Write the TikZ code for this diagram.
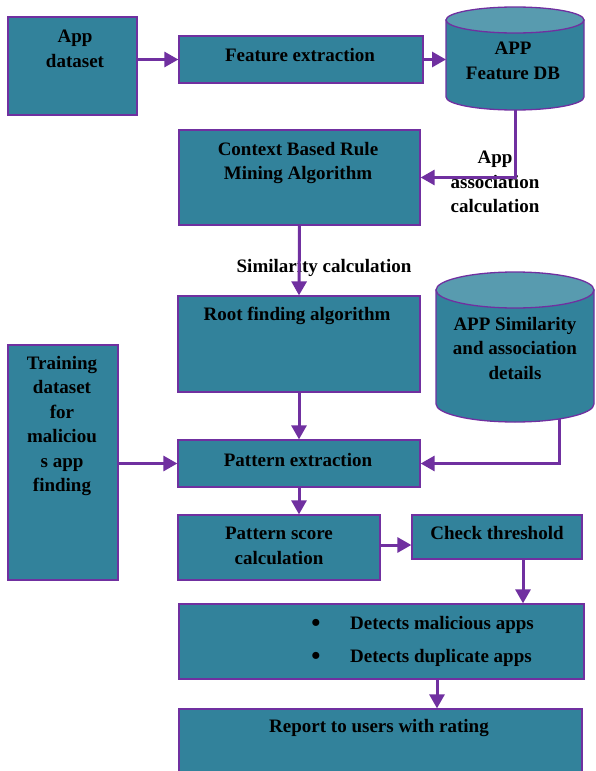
\documentclass[tikz,border=0pt]{standalone}
\usepackage{fontspec}
\setmainfont{Liberation Serif}
\usetikzlibrary{arrows.meta,calc}
\definecolor{boxfill}{RGB}{50,130,155}
\definecolor{capfill}{RGB}{88,155,175}
\definecolor{edge}{RGB}{112,48,160}
\begin{document}
\begin{tikzpicture}[x=1pt,y=-1pt,
  box/.style={draw=edge, line width=1.3pt, fill=boxfill, rectangle, inner sep=0pt},
  txt/.style={font=\bfseries\fontsize{19}{24.5}\selectfont, align=center, inner sep=0pt, text=black},
  bul/.style={font=\bfseries\fontsize{26}{26}\selectfont, inner sep=0pt, text=black},
  arr/.style={draw=edge, line width=3pt, -{Triangle[length=14pt,width=15pt]}},
  cylbody/.style={draw=edge, line width=1.3pt, fill=boxfill},
  cylcap/.style={draw=edge, line width=1.3pt, fill=capfill}]
\useasboundingbox (0,0) rectangle (596,771);
\fill[white] (0,0) rectangle (596,771);

% boxes
\node[box, minimum width=129pt, minimum height=98pt] (app) at (72.5,66) {};
\node[box, minimum width=244pt, minimum height=47pt] (feat) at (301,59.5) {};
\node[box, minimum width=241pt, minimum height=95pt] (ctx) at (299.5,177.5) {};
\node[box, minimum width=242pt, minimum height=96pt] (root) at (299,344) {};
\node[box, minimum width=110pt, minimum height=235pt] (train) at (63,462.5) {};
\node[box, minimum width=242pt, minimum height=47pt] (patt) at (299,463.5) {};
\node[box, minimum width=202pt, minimum height=65pt] (score) at (279,547.5) {};
\node[box, minimum width=170pt, minimum height=44pt] (check) at (497,537) {};
\node[box, minimum width=405pt, minimum height=75pt] (detect) at (381.5,641.5) {};
\node[box, minimum width=403pt, minimum height=70pt] (report) at (380.5,744) {};

% cylinder 1
\path[cylbody] (446,20) -- (446,97) arc[start angle=180, end angle=360, x radius=69pt, y radius=13pt] -- (584,20) -- cycle;
\path[cylcap] (515,20) ellipse [x radius=69pt, y radius=13pt];
\coordinate (db1w) at (446,59.5);
\coordinate (db1s) at (515,110);
% cylinder 2
\path[cylbody] (436,290) -- (436,404) arc[start angle=180, end angle=360, x radius=79pt, y radius=18pt] -- (594,290) -- cycle;
\path[cylcap] (515,290) ellipse [x radius=79pt, y radius=18pt];
\coordinate (db2s) at (559,419);

% texts
\node[txt] (tapp) at (75,49) {App\\dataset};
\node[txt] (tfeat) at (300,55) {Feature extraction};
\node[txt] (tdb1) at (513,61) {APP\\Feature DB};
\node[txt] (tctx) at (298,163) {Context Based Rule\\Mining Algorithm};
\node[txt] (tassoc) at (495,182) {App\\association\\calculation};
\node[txt] (tsim) at (324,268) {Similarity calculation};
\node[txt] (troot) at (297,316) {Root finding algorithm};
\node[txt] (tdb2) at (515,348) {APP Similarity\\and association\\details};
\node[txt] (ttrain) at (62,426) {Training\\dataset\\for\\maliciou\\s app\\finding};
\node[txt] (tpatt) at (298,460) {Pattern extraction};
\node[txt] (tscore) at (279,546) {Pattern score\\calculation};
\node[txt] (tcheck) at (497,533) {Check threshold};
\node[bul] (b1) at (316,625) {•};
\node[txt, anchor=west] (d1) at (350,625) {Detects malicious apps};
\node[bul] (b2) at (316,658) {•};
\node[txt, anchor=west] (d2) at (350,658) {Detects duplicate apps};
\node[txt] (trep) at (379,728) {Report to users with rating};

% connectors
\draw[arr] (feat.west -| app.east) -- (feat.west);
\draw[arr] (feat.east) -- (db1w);
\draw[arr] (db1s) |- (ctx.east);
\draw[arr] (ctx.south) -- (root.north);
\draw[arr] (root.south) -- (patt.north);
\draw[arr] (train.east |- patt.west) -- (patt.west);
\draw[arr] (db2s) |- (patt.east);
\draw[arr] (patt.south) -- (patt.south |- score.north);
\draw[arr] ([yshift=2.5pt]score.east) -- ([yshift=2.5pt]score.east -| check.west);
\draw[arr] ([xshift=26pt]check.south) -- ([xshift=26pt]check.south |- detect.north);
\draw[arr] ([xshift=55.5pt]detect.south) -- ([xshift=55.5pt]detect.south |- report.north);
\end{tikzpicture}
\end{document}
